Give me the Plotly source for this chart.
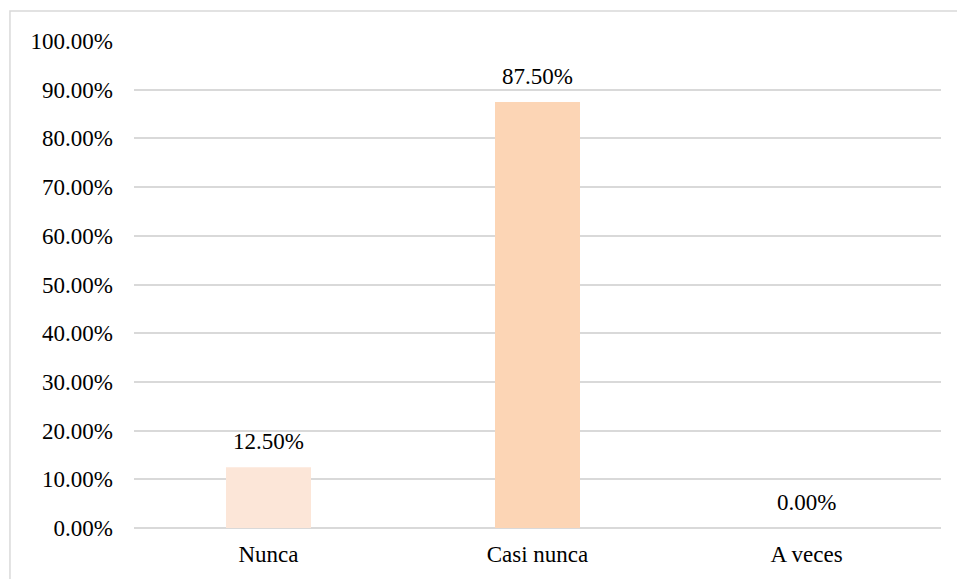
import plotly.graph_objects as go

categories = ["Nunca", "Casi nunca", "A veces"]
values = [0.125, 0.875, 0.0]
labels = ["12.50%", "87.50%", "0.00%"]
colors = ["#FCE6D8", "#FCD5B5", "#F4B183"]

FS = 23

fig = go.Figure(go.Bar(
    x=categories, y=values, marker=dict(color=colors, line=dict(width=0)),
    width=0.316, hoverinfo="skip",
))

for c, v, t in zip(categories, values, labels):
    fig.add_annotation(x=c, y=v, text=t, showarrow=False, yanchor="bottom",
                       yshift=11, font=dict(family="Liberation Serif", size=FS, color="#000000"))

fig.update_layout(
    width=957, height=579,
    margin=dict(l=134, r=16, t=41, b=51),
    paper_bgcolor="white", plot_bgcolor="white",
    font=dict(family="Liberation Serif", size=FS, color="#000000"),
    showlegend=False,
    xaxis=dict(showgrid=False, showline=False, ticks="", tickfont=dict(size=FS),
               ticklabelstandoff=10),
    yaxis=dict(range=[0, 1.0], dtick=0.1, tickformat=".2%", showgrid=True,
               gridcolor="#D9D9D9", gridwidth=1.5, zeroline=True, zerolinecolor="#D9D9D9",
               zerolinewidth=1.5, showline=False, ticks="", ticklen=0,
               tickfont=dict(size=FS), ticklabelstandoff=20),
    shapes=[dict(type="rect", xref="paper", yref="paper",
                 x0=-0.1537, x1=1.2, y0=-0.3, y1=1.0616,
                 line=dict(color="#D9D9D9", width=1.5), fillcolor="rgba(0,0,0,0)", layer="below")],
)

fig.write_html("out.html")
